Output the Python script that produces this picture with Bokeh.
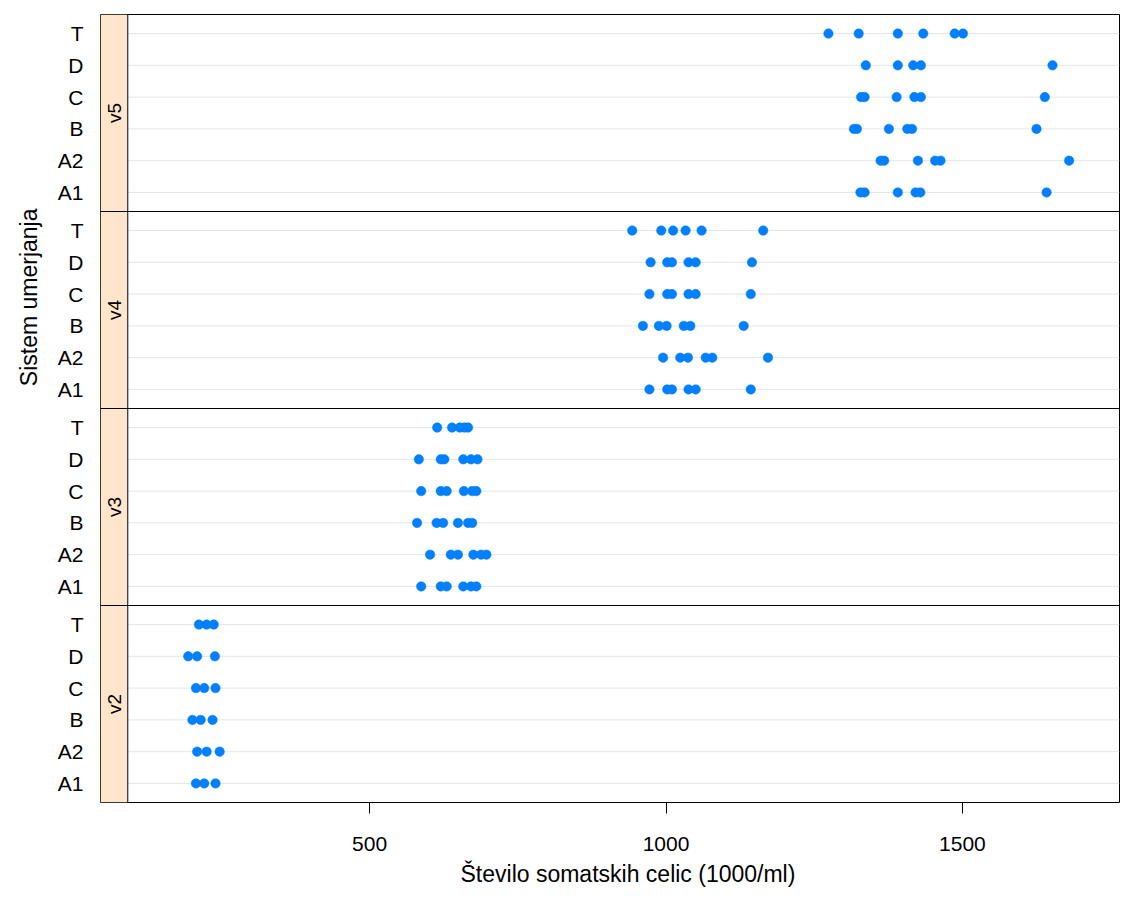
import math
from bokeh.plotting import figure
from bokeh.models import Range1d, FixedTicker, Title
from bokeh.core.properties import value
from bokeh.embed import file_html
from bokeh.resources import INLINE

# ---- data ----
panels = ["v2", "v3", "v4", "v5"]
systems = ["A1", "A2", "B", "C", "D", "T"]

v2 = {
    "A1": [207, 221, 240],
    "A2": [209, 225, 247],
    "B": [201, 215, 235],
    "C": [207, 221, 240],
    "D": [194, 209, 239],
    "T": [212, 225, 237],
}
v3 = {
    "A1": [587, 620, 630, 658, 671, 680],
    "A2": [602, 637, 649, 675, 688, 697],
    "B": [580, 613, 624, 649, 666, 673],
    "C": [587, 620, 630, 659, 673, 680],
    "D": [583, 620, 626, 658, 671, 682],
    "T": [614, 639, 652, 660, 666],
}
v4 = {
    "A1": [972, 1002, 1010, 1038, 1050, 1143],
    "A2": [995, 1024, 1037, 1067, 1078, 1172],
    "B": [961, 988, 1001, 1030, 1041, 1131],
    "C": [972, 1002, 1010, 1038, 1050, 1143],
    "D": [974, 1002, 1010, 1038, 1050, 1145],
    "T": [943, 992, 1012, 1033, 1060, 1164],
}
v5 = {
    "A1": [1328, 1335, 1391, 1421, 1429, 1642],
    "A2": [1362, 1368, 1425, 1454, 1463, 1680],
    "B": [1317, 1322, 1376, 1407, 1415, 1625],
    "C": [1329, 1335, 1389, 1419, 1430, 1639],
    "D": [1337, 1391, 1417, 1430, 1652],
    "T": [1274, 1325, 1391, 1434, 1487, 1501],
}
panel_data = [v2, v3, v4, v5]
x_ticks = [500, 1000, 1500]
x_title = "Število somatskih celic (1000/ml)"
y_title = "Sistem umerjanja"

# ---- layout constants ----
FONT = "Liberation Sans"
PANEL_H = 31      # y units per panel
ROW_GAP = 5
ROW_PAD = 3
X_START, STRIP_RIGHT, X_END = 46, 92, 1765

p = figure(width=1121, height=900,
           x_range=Range1d(X_START, X_END), y_range=Range1d(0, PANEL_H * len(panels)),
           output_backend="svg", toolbar_location=None,
           min_border_left=100, min_border_right=2, min_border_top=14, min_border_bottom=98)
p.xgrid.visible = False
p.ygrid.visible = False
p.outline_line_color = "black"
p.outline_line_width = 1
p.background_fill_color = "white"
p.border_fill_color = "white"

# strips and row guides
row_y, row_lab = [], []
for k, name in enumerate(panels):
    base = k * PANEL_H
    p.quad(left=[X_START], right=[STRIP_RIGHT], bottom=[base], top=[base + PANEL_H],
           fill_color="#ffe5cc", line_color=None)
    ys = [base + ROW_PAD + ROW_GAP * j for j in range(len(systems))]
    p.segment(x0=[STRIP_RIGHT] * len(ys), x1=[X_END] * len(ys), y0=ys, y1=ys,
              line_color="#e6e6e6", line_width=1)
    row_y += ys
    row_lab += systems

# panel separators
seps = [k * PANEL_H for k in range(1, len(panels))]
p.segment(x0=[X_START] * len(seps), x1=[X_END] * len(seps), y0=seps, y1=seps,
          line_color="black", line_width=1)
p.segment(x0=[STRIP_RIGHT], x1=[STRIP_RIGHT], y0=[0], y1=[PANEL_H * len(panels)],
          line_color="black", line_width=1)

# strip labels
p.text(x=[(X_START + STRIP_RIGHT) / 2] * len(panels),
       y=[k * PANEL_H + PANEL_H / 2 for k in range(len(panels))],
       text=panels, angle=math.pi / 2, text_align="center", text_baseline="middle",
       text_font=value(FONT), text_font_size="19px", text_color="black")

# points
xs, ys = [], []
for k, d in enumerate(panel_data):
    for j, s in enumerate(systems):
        for v in d[s]:
            xs.append(v)
            ys.append(k * PANEL_H + ROW_PAD + ROW_GAP * j)
p.scatter(xs, ys, size=9.5, fill_color="#0080ff", line_color="#0080ff", line_width=0.5)

# axes
p.xaxis.ticker = FixedTicker(ticks=x_ticks)
p.xaxis.axis_line_color = None
p.xaxis.major_tick_out = 11
p.xaxis.major_tick_in = 0
p.xaxis.minor_tick_line_color = None
p.xaxis.major_label_standoff = 23
p.xaxis.major_label_text_font = FONT
p.xaxis.major_label_text_font_size = "21px"
p.xaxis.major_label_text_color = "black"

p.yaxis.ticker = FixedTicker(ticks=row_y)
p.yaxis.major_label_overrides = {y: lab for y, lab in zip(row_y, row_lab)}
p.yaxis.axis_line_color = None
p.yaxis.major_tick_out = 0
p.yaxis.major_tick_in = 0
p.yaxis.minor_tick_line_color = None
p.yaxis.major_label_standoff = 17
p.yaxis.major_label_text_font = FONT
p.yaxis.major_label_text_font_size = "21px"
p.yaxis.major_label_text_color = "black"

# axis titles as side titles (allow offset along the side)
p.add_layout(Title(text=x_title, align="left", offset=360, standoff=10,
                   text_font=FONT, text_font_size="23px", text_font_style="normal",
                   text_color="black"), "below")
p.add_layout(Title(text=y_title, align="right", offset=194, standoff=25,
                   text_font=FONT, text_font_size="23px", text_font_style="normal",
                   text_color="black"), "left")

open("out.html", "w").write(file_html(p, INLINE))
